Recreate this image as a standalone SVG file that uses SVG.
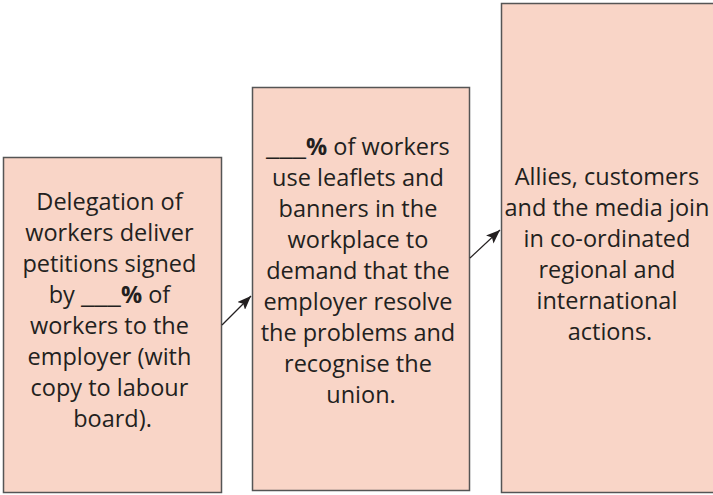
<svg xmlns="http://www.w3.org/2000/svg" width="713" height="495" viewBox="0 0 713 495">
<style>
.box{fill:#f9d5c7;stroke:#555;stroke-width:1.5}
.t{font-family:"Open Sans","Noto Sans",sans-serif;font-size:23.5px;fill:#231f20;text-anchor:middle}
.b{font-weight:bold}
.c{stroke:#231f20;stroke-width:1.2;fill:none}
</style>
<defs>
<marker id="ah" viewBox="0 0 14 11" refX="14" refY="5.5" markerWidth="14" markerHeight="11" markerUnits="userSpaceOnUse" orient="auto">
<path d="M0,0 L14,5.5 L0,11 L3,5.5 z" fill="#231f20"/>
</marker>
</defs>
<rect width="713" height="495" fill="#fff"/>
<g id="node1">
<rect class="box" x="3.5" y="157.5" width="218" height="335"/>
<text class="t" x="112.5">
<tspan x="112.5" y="210">Delegation of</tspan>
<tspan x="112.5" y="241">workers deliver</tspan>
<tspan x="112.5" y="272">petitions signed</tspan>
<tspan x="112.5" y="303">by <tspan class="b" textLength="40" lengthAdjust="spacingAndGlyphs">___</tspan><tspan class="b">%</tspan> of</tspan>
<tspan x="112.5" y="334">workers to the</tspan>
<tspan x="112.5" y="365">employer (with</tspan>
<tspan x="112.5" y="396">copy to labour</tspan>
<tspan x="112.5" y="427">board).</tspan>
</text>
</g>
<g id="node2">
<rect class="box" x="252.5" y="87.5" width="217" height="403"/>
<text class="t">
<tspan x="361" y="155"><tspan class="b" textLength="40" lengthAdjust="spacingAndGlyphs">___</tspan><tspan class="b">%</tspan> of workers</tspan>
<tspan x="361" y="186">use leaflets and</tspan>
<tspan x="361" y="217">banners in the</tspan>
<tspan x="361" y="248">workplace to</tspan>
<tspan x="361" y="279">demand that the</tspan>
<tspan x="361" y="310">employer resolve</tspan>
<tspan x="361" y="341">the problems and</tspan>
<tspan x="361" y="372">recognise the</tspan>
<tspan x="361" y="403">union.</tspan>
</text>
</g>
<g id="node3">
<rect class="box" x="501.5" y="3.5" width="220" height="489"/>
<text class="t">
<tspan x="610" y="185">Allies, customers</tspan>
<tspan x="610" y="216">and the media join</tspan>
<tspan x="610" y="247">in co-ordinated</tspan>
<tspan x="610" y="278">regional and</tspan>
<tspan x="610" y="309">international</tspan>
<tspan x="610" y="340">actions.</tspan>
</text>
</g>
<g id="connectors">
<line class="c" x1="222" y1="325" x2="251" y2="296" marker-end="url(#ah)"/>
<line class="c" x1="470" y1="258" x2="500" y2="230" marker-end="url(#ah)"/>
</g>
</svg>
